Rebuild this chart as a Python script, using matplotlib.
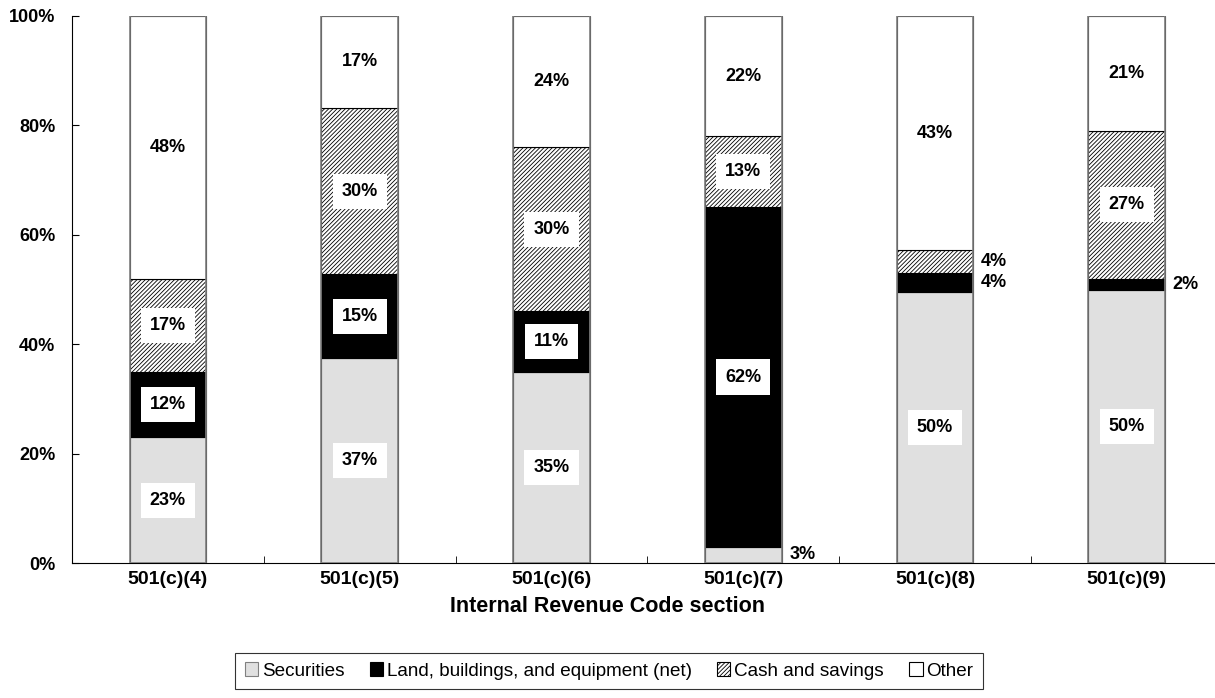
import matplotlib
matplotlib.use('Agg')
import matplotlib.pyplot as plt
import numpy as np

plt.rcParams['font.family'] = ['Liberation Sans', 'DejaVu Sans']
plt.rcParams['hatch.linewidth'] = 0.6

# data (percent of total assets)
sections = ['501(c)(4)', '501(c)(5)', '501(c)(6)', '501(c)(7)', '501(c)(8)', '501(c)(9)']
securities = [23, 37.4, 35, 3, 49.5, 50]
land = [12, 15.4, 11, 62, 3.6, 2]
cash = [17, 30.4, 30, 13, 4.1, 27]
other = [48, 16.8, 24, 22, 42.8, 21]
series_names = ['Securities', 'Land, buildings, and equipment (net)', 'Cash and savings', 'Other']

fig = plt.figure(figsize=(12.15, 6.98), dpi=100)
ax = fig.add_axes([72 / 1215, 1 - 563 / 698, 1143 / 1215, 547 / 698])

x = np.arange(len(sections))
w = 0.4
series = [securities, land, cash, other]
faces = ['#e0e0e0', 'black', 'white', 'white']
hatches = [None, None, '////////', None]

bottom = np.zeros(len(sections))
for vals, fc, h, name in zip(series, faces, hatches, series_names):
    vals = np.array(vals, dtype=float)
    ax.bar(x, vals, w, bottom=bottom, color=fc, edgecolor='black', linewidth=0.8,
           hatch=h, zorder=2)
    for i, v in enumerate(vals):
        txt = f'{v:.0f}%'
        yc = bottom[i] + v / 2
        if v < 8:
            ax.text(x[i] + w / 2 + 0.04, yc, txt, ha='left', va='center',
                    fontsize=13, fontweight='bold', zorder=4)
        else:
            ax.text(x[i], yc, txt, ha='center', va='center', fontsize=13,
                    fontweight='bold', zorder=4,
                    bbox=dict(boxstyle='square,pad=0.5', fc='white', ec='none'))
    bottom += vals

# grey outline around each bar
ax.bar(x, bottom, w, fill=False, edgecolor='#808080', linewidth=1.2, zorder=3)

ax.set_xlim(-0.5, 5.46)
ax.set_ylim(0, 100)
ax.set_yticks(np.arange(0, 101, 20))
ax.set_yticklabels([f'{t}%' for t in range(0, 101, 20)], fontsize=13, fontweight='bold')
ax.set_xticks(x)
ax.set_xticklabels(sections, fontsize=14, fontweight='bold')
ax.tick_params(axis='x', length=0, pad=6)
ax.set_xticks(np.arange(0.5, 5, 1), minor=True)
ax.tick_params(axis='x', which='minor', direction='in', length=5)
ax.tick_params(axis='y', direction='in', length=5, width=0.8, pad=12)
ax.spines['top'].set_visible(False)
ax.spines['right'].set_visible(False)
ax.set_xlabel('Internal Revenue Code section', fontsize=15.5, fontweight='bold')
ax.xaxis.set_label_coords((607.5 - 72) / 1143, -0.06, transform=None)
ax.xaxis.label.set_verticalalignment('top')

# legend
leg_handles = [
    plt.Rectangle((0, 0), 1, 1, fc='#e0e0e0', ec='#808080', lw=0.8),
    plt.Rectangle((0, 0), 1, 1, fc='black', ec='black', lw=0.8),
    plt.Rectangle((0, 0), 1, 1, fc='white', ec='black', lw=0.8, hatch='////////'),
    plt.Rectangle((0, 0), 1, 1, fc='white', ec='black', lw=0.8),
]
leg = fig.legend(leg_handles, series_names, loc='center', bbox_to_anchor=(609 / 1215, 1 - 671 / 698),
                 ncol=4, fontsize=13.6, frameon=True, fancybox=False, edgecolor='black',
                 handlelength=0.7, handleheight=0.7, handletextpad=0.2, columnspacing=1.35,
                 borderpad=0.5, borderaxespad=0)
leg.get_frame().set_linewidth(0.8)

fig.savefig('out.png', dpi=100)
